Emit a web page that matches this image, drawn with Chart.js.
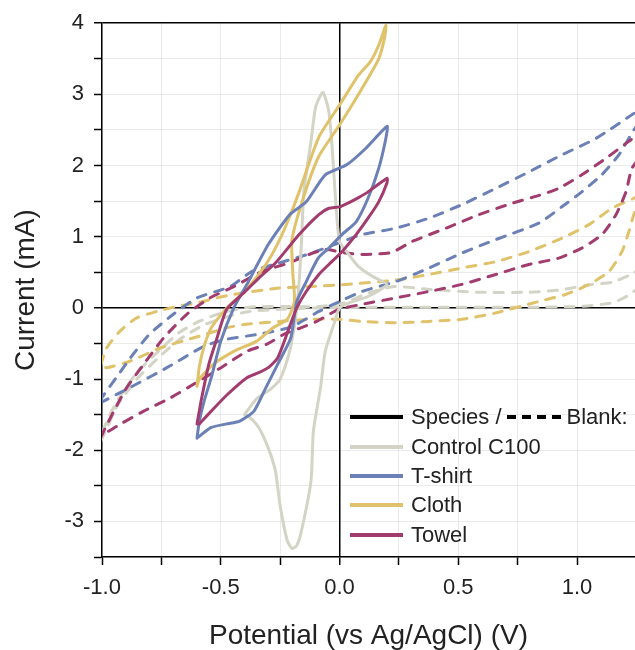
<!DOCTYPE html>
<html lang="en">
<head>
<meta charset="UTF-8">
<title>Cyclic voltammetry</title>
<script src="https://cdn.jsdelivr.net/npm/chart.js"></script>
<style>
  body { margin: 0; background: #fff; }
  #wrap { position: relative; width: 635px; height: 650px; }
  #legend { position: absolute; left: 350px; top: 0; font-family: 'Liberation Sans', Arial, sans-serif; font-size: 22px; color: #222; }
  .row { position: absolute; left: 0; height: 26px; line-height: 26px; display: flex; align-items: center; white-space: nowrap; }
  .sw { width: 53px; height: 4px; margin-right: 8px; }
  .dash { width: 56px; height: 4px; margin: 0 4px 0 5px; background: repeating-linear-gradient(to right, #000 0 9px, transparent 9px 15px); }
</style>
</head>
<body>
<div id="wrap">
  <canvas id="cvChart" width="635" height="650"></canvas>
  <div id="legend"></div>
</div>

<script>
// axis ranges and tick labels
const potentialRange = [-1.0, 1.244];
const currentRange = [-3.5, 4];
const xTickLabels = [-1.0, -0.5, 0.0, 0.5, 1.0];
const yTickLabels = [-3, -2, -1, 0, 1, 2, 3, 4];

const seriesNames = ['Control C100', 'T-shirt', 'Cloth', 'Towel'];
const seriesColors = ['#d3d4c5', '#6b80b6', '#dfc26a', '#a23c6e'];

// [potential (V), current (mA)], species (solid)
const controlSpecies = [
  [-0.40,-1.50],[-0.35,-1.28],[-0.29,-1.14],[-0.25,-1.00],[-0.21,-0.61],[-0.19,-0.26],[-0.18,0.00],
  [-0.17,0.37],[-0.16,0.93],[-0.15,1.64],[-0.12,2.34],[-0.10,2.83],[-0.07,3.03],[-0.045,2.76],
  [-0.03,2.20],[-0.016,1.49],[0.0,0.93],[0.03,0.79],[0.08,0.58],[0.14,0.44],[0.20,0.33],
  [0.12,0.16],[0.04,0.07],[0.0,0.0],[-0.02,-0.19],[-0.06,-0.61],[-0.08,-1.12],[-0.11,-1.73],
  [-0.12,-2.43],[-0.16,-3.13],[-0.18,-3.34],[-0.20,-3.38],[-0.22,-3.27],[-0.25,-2.78],[-0.27,-2.29],
  [-0.30,-1.97],[-0.34,-1.68],[-0.38,-1.53],[-0.40,-1.50]
];
const tshirtSpecies = [
  [-0.60,-1.83],[-0.59,-1.59],[-0.57,-1.31],[-0.54,-0.98],[-0.50,-0.47],[-0.445,0.0],[-0.39,0.33],
  [-0.30,0.89],[-0.21,1.31],[-0.14,1.49],[-0.06,1.87],[0.03,2.01],[0.11,2.24],[0.20,2.55],
  [0.195,2.38],[0.165,1.96],[0.12,1.54],[0.07,1.21],[0.01,1.03],[-0.045,0.84],[-0.09,0.70],
  [-0.14,0.37],[-0.18,0.09],[-0.205,-0.42],[-0.26,-0.79],[-0.31,-1.12],[-0.36,-1.45],[-0.42,-1.59],
  [-0.475,-1.63],[-0.54,-1.68],[-0.60,-1.83]
];
const clothSpecies = [
  [-0.60,-1.10],[-0.59,-0.82],[-0.57,-0.54],[-0.54,-0.28],[-0.475,0.0],[-0.40,0.23],[-0.31,0.61],
  [-0.256,0.93],[-0.21,1.28],[-0.17,1.63],[-0.087,2.40],[0.0,2.85],[0.08,3.27],[0.13,3.46],
  [0.165,3.69],[0.195,3.97],
  [0.19,3.80],[0.165,3.50],[0.094,3.08],[0.0,2.57],[-0.087,2.13],[-0.15,1.57],[-0.20,0.96],
  [-0.197,0.51],[-0.19,0.09],[-0.22,-0.16],[-0.28,-0.28],[-0.35,-0.47],[-0.445,-0.61],[-0.53,-0.79],
  [-0.59,-1.00],[-0.60,-1.10]
];
const towelSpecies = [
  [-0.60,-1.63],[-0.58,-1.26],[-0.55,-0.79],[-0.52,-0.47],[-0.475,-0.02],[-0.40,0.22],[-0.33,0.45],
  [-0.27,0.63],[-0.17,1.03],[-0.087,1.31],[-0.045,1.40],[0.0,1.42],[0.04,1.48],[0.08,1.55],
  [0.12,1.63],[0.20,1.82],
  [0.20,1.76],[0.165,1.49],[0.12,1.26],[0.07,1.03],[0.01,0.79],[-0.045,0.61],[-0.087,0.47],
  [-0.14,0.23],[-0.18,0.0],[-0.21,-0.26],[-0.26,-0.70],[-0.30,-0.84],[-0.34,-0.91],[-0.39,-0.98],
  [-0.47,-1.21],[-0.54,-1.45],[-0.59,-1.63]
];

// blanks (dashed)
const controlBlank = [
  [-1.005,-1.87],[-0.98,-1.70],[-0.937,-1.38],[-0.853,-1.00],[-0.769,-0.72],[-0.672,-0.44],
  [-0.571,-0.24],[-0.487,-0.14],[-0.382,-0.05],[-0.256,-0.02],[-0.087,0.0],[0.111,0.01],[0.279,0.01],
  [0.515,0.01],[0.797,0.01],[1.008,0.02],[1.147,0.07],[1.218,0.18],[1.281,0.37],
  [1.281,0.63],[1.239,0.49],[1.147,0.36],[1.063,0.33],[0.923,0.25],[0.797,0.22],[0.587,0.22],
  [0.376,0.26],[0.229,0.30],[0.123,0.21],[0.018,0.07],[-0.087,0.02],[-0.256,0.02],[-0.382,0.01],
  [-0.495,-0.07],[-0.592,-0.19],[-0.677,-0.35],[-0.769,-0.63],[-0.853,-0.91],[-0.937,-1.31],
  [-0.988,-1.66],[-1.005,-1.87]
];
const tshirtBlank = [
  [-1.01,-1.31],[-0.99,-1.21],[-0.94,-0.98],[-0.88,-0.70],[-0.80,-0.37],[-0.70,-0.09],[-0.60,0.14],
  [-0.46,0.30],[-0.37,0.51],[-0.256,0.63],[-0.117,0.77],[0.01,0.93],[0.094,1.03],[0.237,1.12],
  [0.376,1.26],[0.515,1.45],[0.658,1.68],[0.797,1.91],[0.936,2.15],[1.079,2.38],[1.239,2.73],[1.28,2.81],
  [1.28,2.69],[1.239,2.50],[1.176,2.15],[1.104,1.87],[1.02,1.63],[0.936,1.42],[0.839,1.19],
  [0.658,0.96],[0.515,0.77],[0.376,0.56],[0.237,0.37],[0.094,0.23],[0.0,0.09],[-0.087,-0.05],
  [-0.205,-0.27],[-0.34,-0.37],[-0.475,-0.44],[-0.571,-0.54],[-0.727,-0.84],[-0.883,-1.12],[-1.005,-1.33]
];
const clothBlank = [
  [-1.005,-0.80],[-0.98,-0.56],[-0.925,-0.33],[-0.854,-0.14],[-0.769,-0.05],[-0.685,0.02],[-0.60,0.07],
  [-0.517,0.14],[-0.445,0.19],[-0.256,0.28],[-0.117,0.30],[0.027,0.33],[0.237,0.39],[0.376,0.47],
  [0.515,0.56],[0.658,0.65],[0.797,0.79],[0.936,0.98],[1.05,1.17],[1.147,1.40],[1.239,1.54],[1.28,1.63],
  [1.27,1.59],[1.239,1.31],[1.218,1.07],[1.189,0.79],[1.134,0.51],[1.05,0.33],[0.953,0.19],
  [0.839,0.09],[0.658,-0.07],[0.515,-0.16],[0.376,-0.19],[0.237,-0.21],[0.094,-0.19],[0.0,-0.16],
  [-0.117,-0.16],[-0.256,-0.19],[-0.394,-0.23],[-0.475,-0.28],[-0.613,-0.42],[-0.752,-0.56],
  [-0.883,-0.75],[-0.98,-0.84],[-1.005,-0.82]
];
const towelBlank = [
  [-1.005,-1.82],[-0.988,-1.70],[-0.95,-1.45],[-0.896,-1.12],[-0.824,-0.79],[-0.74,-0.42],[-0.643,-0.09],
  [-0.546,0.14],[-0.445,0.30],[-0.328,0.51],[-0.214,0.63],[-0.129,0.75],[-0.058,0.82],[0.027,0.77],
  [0.111,0.75],[0.22,0.78],[0.304,0.93],[0.448,1.12],[0.587,1.31],[0.726,1.47],[0.839,1.58],
  [0.923,1.68],[1.02,1.87],[1.121,2.10],[1.218,2.34],[1.281,2.48],
  [1.281,2.20],[1.231,1.96],[1.206,1.63],[1.164,1.31],[1.105,1.03],[1.02,0.84],[0.923,0.70],
  [0.797,0.61],[0.658,0.47],[0.515,0.33],[0.376,0.23],[0.237,0.14],[0.094,0.05],[-0.003,-0.02],
  [-0.096,-0.19],[-0.163,-0.28],[-0.234,-0.37],[-0.306,-0.51],[-0.39,-0.61],[-0.499,-0.84],
  [-0.613,-1.07],[-0.71,-1.26],[-0.824,-1.45],[-0.921,-1.63],[-1.005,-1.80]
];

const speciesData = [controlSpecies, tshirtSpecies, clothSpecies, towelSpecies];
const blankData = [controlBlank, tshirtBlank, clothBlank, towelBlank];

Chart.defaults.font.family = "'Liberation Sans', Arial, sans-serif";
Chart.defaults.color = '#222';

function makeSet(points, color, dashed) {
    return {
        data: points.map(p => ({ x: p[0], y: p[1] })),
        showLine: true,
        borderColor: color,
        borderWidth: 3,
        borderDash: dashed ? [9, 9] : [],
        borderCapStyle: 'round',
        borderJoinStyle: 'round',
        pointRadius: 0,
        tension: 0.2,
        fill: false
    };
}

// solid species first so they are drawn on top, blanks underneath
const drawOrder = [3, 1, 2, 0];
const datasets = [];
drawOrder.forEach(i => datasets.push(makeSet(speciesData[i], seriesColors[i], false)));
drawOrder.forEach(i => datasets.push(makeSet(blankData[i], seriesColors[i], true)));

const axisLine = (c, blackValues) => (c.tick && blackValues.includes(c.tick.value)) ? '#000' : 'rgba(0,0,0,0.08)';
const axisWidth = (c, blackValues) => (c.tick && blackValues.includes(c.tick.value)) ? 1.5 : 1;

new Chart(document.getElementById('cvChart'), {
    type: 'scatter',
    data: { datasets: datasets },
    options: {
        responsive: false,
        animation: false,
        devicePixelRatio: 1,
        layout: { padding: { top: 22, left: 0, right: 0, bottom: 0 } },
        plugins: { legend: { display: false }, tooltip: { enabled: false } },
        scales: {
            x: {
                type: 'linear',
                min: potentialRange[0],
                max: potentialRange[1],
                afterFit: s => { s.height = 93; },
                border: { color: '#000', width: 1.5 },
                grid: {
                    color: c => axisLine(c, [0]),
                    lineWidth: c => axisWidth(c, [0]),
                    tickLength: 8, tickColor: '#000', tickWidth: 1.5
                },
                ticks: {
                    stepSize: 0.25,
                    includeBounds: false,
                    autoSkip: false,
                    maxRotation: 0,
                    padding: 10,
                    font: { size: 22 },
                    callback: v => xTickLabels.includes(v) ? v.toFixed(1) : ''
                },
                title: {
                    display: true,
                    text: 'Potential (vs Ag/AgCl) (V)',
                    font: { size: 28, lineHeight: 1.0 },
                    padding: { top: 0, bottom: 0 }
                }
            },
            y: {
                type: 'linear',
                min: currentRange[0],
                max: currentRange[1],
                afterFit: s => { s.width = 102; },
                border: { color: '#000', width: 1.5 },
                grid: {
                    color: c => axisLine(c, [0, 4]),
                    lineWidth: c => axisWidth(c, [0, 4]),
                    tickLength: 8, tickColor: '#000', tickWidth: 1.5
                },
                ticks: {
                    stepSize: 0.5,
                    autoSkip: false,
                    padding: 10,
                    font: { size: 22 },
                    callback: v => yTickLabels.includes(v) ? String(v) : ''
                },
                title: {
                    display: true,
                    text: 'Current (mA)',
                    font: { size: 28, lineHeight: 1.0 },
                    padding: { top: 12, bottom: 0 }
                }
            }
        }
    }
});

// legend: "Species / - - - Blank:" header then one row per sample
const legend = document.getElementById('legend');
const rowTops = [404, 434, 463, 492, 522];
let html = '<div class="row" style="top:' + rowTops[0] + 'px"><div class="sw" style="background:#000"></div>' +
           '<span>Species /</span><div class="dash"></div><span>Blank:</span></div>';
seriesNames.forEach((name, i) => {
    html += '<div class="row" style="top:' + rowTops[i + 1] + 'px"><div class="sw" style="background:' +
            seriesColors[i] + '"></div><span>' + name + '</span></div>';
});
legend.innerHTML = html;
</script>
</body>
</html>
